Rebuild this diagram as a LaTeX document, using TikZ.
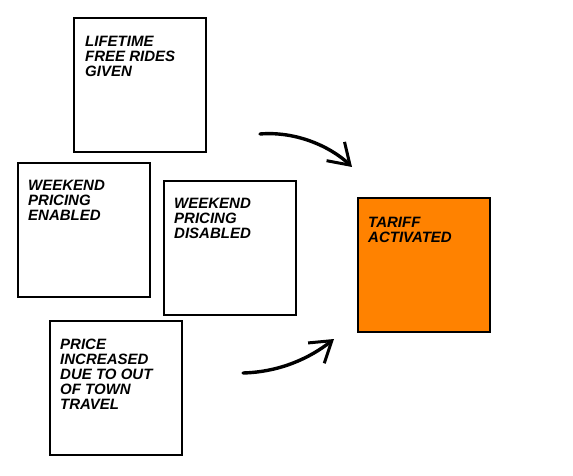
\documentclass[tikz,border=0pt]{standalone}
\usepackage{fontspec}
\setmainfont{Liberation Sans}
\usetikzlibrary{arrows.meta}
\definecolor{tariff}{RGB}{255,130,0}
\tikzset{
  card/.style={draw=black, line width=1.7pt, fill=white, minimum width=132pt, minimum height=134pt, inner sep=0pt, anchor=north west},
  cardtext/.style={anchor=north west, align=left, inner sep=0pt, font=\fontsize{15}{15}\selectfont\bfseries\itshape},
  flow/.style={line width=3.4pt, -{Straight Barb[length=20pt,width=26pt,line width=3pt]}, line cap=round},
}
\begin{document}
\begin{tikzpicture}[x=1pt,y=-1pt]
\useasboundingbox (0,0) rectangle (573,476);
\node[card] (life) at (73,17) {};
\node[card] (wen) at (17,162) {};
\node[card] (wdis) at (163,180) {};
\node[card] (price) at (49,320) {};
\node[card, fill=tariff] (tariff) at (357,197) {};
\node[cardtext] (lifet) at (85,36) {LIFETIME\\FREE RIDES\\GIVEN};
\node[cardtext] (went) at (28,180) {WEEKEND\\PRICING\\ENABLED};
\node[cardtext] (wdist) at (174,198) {WEEKEND\\PRICING\\DISABLED};
\node[cardtext] (pricet) at (60,339) {PRICE\\INCREASED\\DUE TO OUT\\OF TOWN\\TRAVEL};
\node[cardtext] (tarifft) at (368,217) {TARIFF\\ACTIVATED};
\coordinate (a1) at (260,134);
\coordinate (a2) at (352,167);
\coordinate (b1) at (243,373);
\coordinate (b2) at (334,339);
\draw[flow] (a1) .. controls (295,131) and (330,146) .. (a2);
\draw[flow] (b1) .. controls (280,372) and (310,358) .. (b2);
\end{tikzpicture}
\end{document}
